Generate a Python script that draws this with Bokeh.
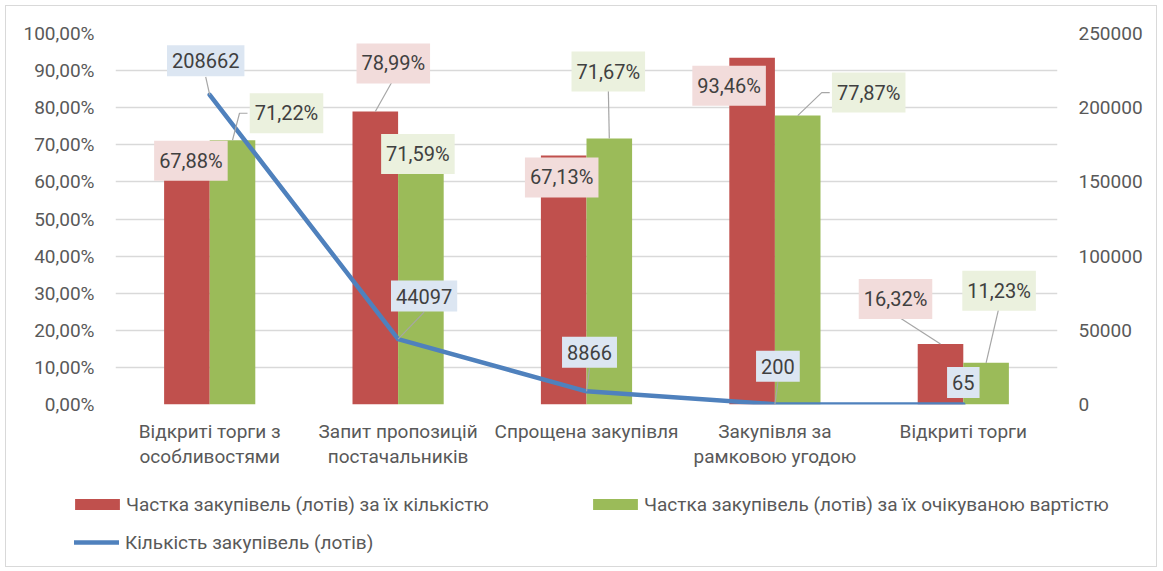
import numpy as np
from bokeh.plotting import figure
from bokeh.layouts import column
from bokeh.models import Range1d, LinearAxis, FixedTicker, Legend, LegendItem
from bokeh.core.properties import value
from bokeh.embed import file_html
from bokeh.resources import INLINE

# ---------------- data ----------------
categories = [
    "Відкриті торги з\nособливостями",
    "Запит пропозицій\nпостачальників",
    "Спрощена закупівля",
    "Закупівля за\nрамковою угодою",
    "Відкриті торги",
]
share_count = [67.88, 78.99, 67.13, 93.46, 16.32]   # % by number of lots
share_value = [71.22, 71.59, 71.67, 77.87, 11.23]   # % by expected value
lots = [208662, 44097, 8866, 200, 65]               # number of lots

series_names = [
    "Частка закупівель (лотів) за їх кількістю",
    "Частка закупівель (лотів) за їх очікуваною вартістю",
    "Кількість закупівель (лотів)",
]

pct_ticks = [0, 10, 20, 30, 40, 50, 60, 70, 80, 90, 100]
pct_tick_labels = ["0,00%", "10,00%", "20,00%", "30,00%", "40,00%", "50,00%",
                   "60,00%", "70,00%", "80,00%", "90,00%", "100,00%"]
lot_ticks = [0, 50000, 100000, 150000, 200000, 250000]
lot_tick_labels = ["0", "50000", "100000", "150000", "200000", "250000"]

# ---------------- style / layout ----------------
FONT = value("Roboto")
RED, GREEN, BLUE = "#C0504D", "#9BBB59", "#4F81BD"
RED_BG, GREEN_BG, BLUE_BG = "#F2DCDB", "#EBF1DE", "#DCE6F2"
TXT = "#595959"
LBL = "#404040"
LEADER = "#A6A6A6"

FRAME_W, FRAME_H = 942, 371
X_MIN, X_MAX = -0.5, 4.5
PCT_MAX, LOT_MAX = 100, 250000
PX_X = FRAME_W / (X_MAX - X_MIN)
PX_Y = FRAME_H / PCT_MAX
BAR_W, BAR_OFF = 0.242, 0.121
BOX_HALF_H = 16
BOX_HALF_W = 39
TOTAL_W = 1150
LEG_H = 82

# label centre offsets from anchor in pixels (dx right, dy up) and leader type
red_off = [(4, -8), (18, 48), (-2, -22), (-23, -28), (-45, 45)]
red_lead = ["", "b", "", "", "b"]
green_off = [(54, 27), (-3, -15), (-1, 67), (71, 23), (13, 72)]
green_lead = ["e", "", "b", "e", "b"]
line_off = [(-4, 34), (26, 43), (3, 39), (3, 38), (0, 22)]
line_lead = ["b", "b", "b", "b", ""]

def fmt_pct(v):
    return f"{v:.2f}".replace(".", ",") + "%"

xs = np.arange(len(categories), dtype=float)

p = figure(
    frame_width=FRAME_W, frame_height=FRAME_H,
    min_border_left=109, min_border_right=99, min_border_top=27, min_border_bottom=80,
    x_range=Range1d(X_MIN, X_MAX), y_range=Range1d(0, PCT_MAX),
    output_backend="svg", toolbar_location=None,
)
p.extra_y_ranges = {"lots": Range1d(0, LOT_MAX)}
p.outline_line_color = None
p.background_fill_color = "white"
p.border_fill_color = "white"

# grid
p.xgrid.visible = False
p.ygrid.ticker = FixedTicker(ticks=pct_ticks)
p.ygrid.grid_line_color = "#D9D9D9"
p.ygrid.grid_line_width = 1.6

def style_axis(ax):
    ax.axis_line_color = None
    ax.major_tick_line_color = None
    ax.minor_tick_line_color = None
    ax.major_label_text_font = "Roboto"
    ax.major_label_text_font_size = "19px"
    ax.major_label_text_color = TXT

# x axis
p.xaxis.ticker = FixedTicker(ticks=list(range(len(categories))))
p.xaxis.major_label_overrides = {i: c for i, c in enumerate(categories)}
style_axis(p.xaxis[0])
p.xaxis.major_label_standoff = 9
p.xaxis.major_label_text_line_height = 1.12

# left axis
p.yaxis.ticker = FixedTicker(ticks=pct_ticks)
p.yaxis.major_label_overrides = {t: l for t, l in zip(pct_ticks, pct_tick_labels)}
style_axis(p.yaxis[0])
p.yaxis.major_label_standoff = 15

# right axis
rax = LinearAxis(y_range_name="lots", ticker=FixedTicker(ticks=lot_ticks),
                 major_label_overrides={t: l for t, l in zip(lot_ticks, lot_tick_labels)})
style_axis(rax)
rax.major_label_standoff = 15
p.add_layout(rax, "right")

# bars
r_red = p.vbar(x=xs - BAR_OFF, top=share_count, width=BAR_W, fill_color=RED, line_color=None)
r_green = p.vbar(x=xs + BAR_OFF, top=share_value, width=BAR_W, fill_color=GREEN, line_color=None)

# line
r_line = p.line(x=xs, y=lots, y_range_name="lots", line_color=BLUE, line_width=4.5,
                line_cap="round", line_join="round")

# labels + leaders (all placed in percent space)
def build(anchor_x, anchor_y, offs, leads, texts):
    lx, ly, lxs, lys = [], [], [], []
    for ax_, ay_, (dx, dy), ld in zip(anchor_x, anchor_y, offs, leads):
        cx = ax_ + dx / PX_X
        cy = ay_ + dy / PX_Y
        lx.append(cx)
        ly.append(cy)
        if ld == "b":
            lxs.append([cx, ax_])
            lys.append([cy - BOX_HALF_H / PX_Y, ay_])
        elif ld == "e":
            sx = cx - BOX_HALF_W / PX_X
            lxs.append([sx, sx - 8 / PX_X, ax_])
            lys.append([cy, cy, ay_])
    return lx, ly, lxs, lys, texts

lot_pct = [v / LOT_MAX * PCT_MAX for v in lots]
groups = [
    build(xs - BAR_OFF, share_count, red_off, red_lead, [fmt_pct(v) for v in share_count]) + (RED_BG,),
    build(xs + BAR_OFF, share_value, green_off, green_lead, [fmt_pct(v) for v in share_value]) + (GREEN_BG,),
    build(xs, lot_pct, line_off, line_lead, [str(v) for v in lots]) + (BLUE_BG,),
]
for lx, ly, lxs, lys, texts, bg in groups:
    if lxs:
        p.multi_line(xs=lxs, ys=lys, line_color=LEADER, line_width=1.2)
for lx, ly, lxs, lys, texts, bg in groups:
    p.text(x=lx, y=ly, text=texts, text_align="center", text_baseline="middle",
           text_font=FONT, text_font_size="20px", text_color=LBL,
           background_fill_color=bg,
           padding=dict(left=5, right=5, top=8, bottom=8))

# ---------------- legend strip (separate figure, pixel coordinates) ----------------
pl = figure(
    frame_width=TOTAL_W, frame_height=LEG_H,
    min_border_left=0, min_border_right=0, min_border_top=0, min_border_bottom=0,
    x_range=Range1d(0, TOTAL_W), y_range=Range1d(0, LEG_H),
    x_axis_location=None, y_axis_location=None,
    output_backend="svg", toolbar_location=None,
)
pl.grid.visible = False
pl.outline_line_color = None
pl.background_fill_color = "white"
pl.border_fill_color = "white"
# hidden proxies of the three series (only their legend swatches are shown)
d_red = pl.vbar(x=xs, top=share_count, width=BAR_W, fill_color=RED, line_color=None, visible=False)
d_green = pl.vbar(x=xs, top=share_value, width=BAR_W, fill_color=GREEN, line_color=None, visible=False)
d_line = pl.line(x=xs, y=lots, line_color=BLUE, line_width=4.5, line_cap="round", visible=False)

def mk_legend(items, loc, gw, gh, standoff):
    lg = Legend(items=items, location=loc, orientation="horizontal",
                glyph_width=gw, glyph_height=gh, label_standoff=standoff,
                padding=0, margin=0, spacing=0, border_line_color=None,
                background_fill_alpha=0, label_height=24,
                inactive_fill_alpha=0, click_policy="none",
                label_text_font="Roboto", label_text_font_size="19px",
                label_text_color=TXT)
    pl.add_layout(lg)

mk_legend([LegendItem(label=series_names[0], renderers=[d_red])], (63, 50), 56, 14, 1)
mk_legend([LegendItem(label=series_names[1], renderers=[d_green])], (581, 50), 56, 14, 1)
mk_legend([LegendItem(label=series_names[2], renderers=[d_line])], (68, 12), 45, 14, 6)

layout = column(p, pl, spacing=0,
                styles={"border": "1px solid #D9D9D9", "margin-left": "5px", "margin-top": "5px"})

open("out.html", "w").write(file_html(layout, INLINE))
